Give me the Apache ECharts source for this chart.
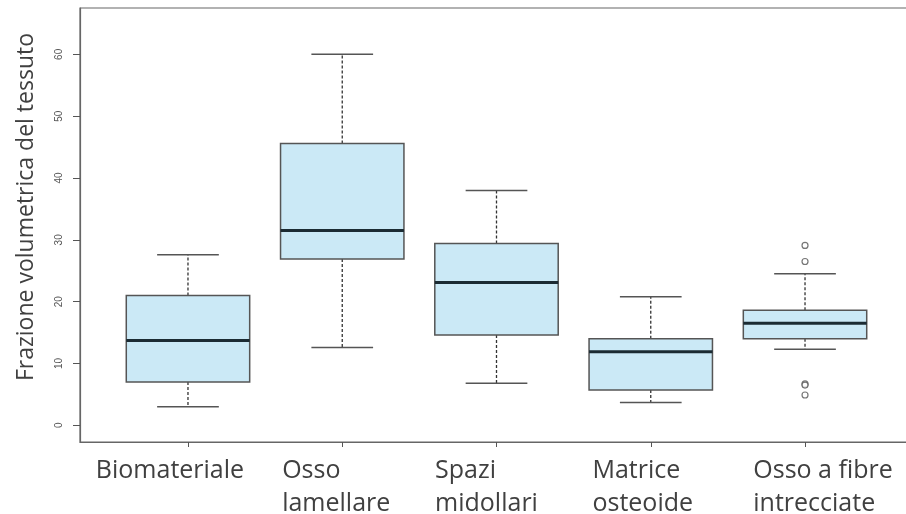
<!DOCTYPE html>
<html>
<head>
<meta charset="utf-8">
<script src="https://cdn.jsdelivr.net/npm/echarts@6/dist/echarts.min.js"></script>
<style>
  html, body { margin: 0; padding: 0; background: #fff; }
  #main { width: 906px; height: 514px; }
</style>
</head>
<body>
<div id="main"></div>
<script>
// categorie (etichette asse x)
var categories = ['Biomateriale', 'Osso\nlamellare', 'Spazi\nmidollari', 'Matrice\nosteoide', 'Osso a fibre\nintrecciate'];
// statistiche dei boxplot, una per categoria
var whiskerLow  = [3.0, 12.6, 6.8, 3.7, 12.3];
var q1          = [7.0, 26.9, 14.6, 5.7, 14.0];
var median      = [13.7, 31.5, 23.1, 11.9, 16.5];
var q3          = [21.0, 45.6, 29.4, 14.0, 18.6];
var whiskerHigh = [27.6, 60.0, 38.0, 20.8, 24.5];
// valori anomali (solo Osso a fibre intrecciate)
var outlierCat = [5, 5, 5, 5, 5];
var outlierVal = [29.1, 26.5, 6.7, 6.5, 4.9];
var yTicks = [0, 10, 20, 30, 40, 50, 60];

var boxData = categories.map(function (c, i) {
  return [i + 1, whiskerLow[i], q1[i], median[i], q3[i], whiskerHigh[i]];
});
var outData = outlierCat.map(function (c, i) { return [c, outlierVal[i]]; });
var catPos = categories.map(function (c, i) { return i + 1; });

// etichette spostate a mano come nell'originale (padding dx / sx)
var lblBase = { align: 'left', fontSize: 25, lineHeight: 33, color: '#404040', fontFamily: 'Open Sans' };
var lblPad = [[0, 36, 0, 0], [0, 12, 0, 0], [0, 20, 0, 0], [0, 16, 0, 0], [0, 0, 0, 36]];
var rich = {};
lblPad.forEach(function (p, i) { rich['c' + i] = Object.assign({ padding: p }, lblBase); });

var chart = echarts.init(document.getElementById('main'));
chart.setOption({
  animation: false,
  grid: {
    left: 80, top: 8, width: 833, height: 434,
    outerBoundsMode: 'none',
    show: true, borderColor: '#666', borderWidth: 1.2
  },
  xAxis: {
    type: 'value', min: 0.3, max: 5.7,
    splitLine: { show: false },
    axisLine: { show: true, onZero: false, lineStyle: { color: '#666', width: 1.2 } },
    axisTick: { show: true, customValues: catPos, length: 5, lineStyle: { color: '#555' } },
    axisLabel: {
      customValues: catPos,
      margin: 12,
      formatter: function (v) {
        var i = Math.round(v) - 1;
        var t = categories[i] || '';
        return t.split('\n').map(function (s) { return '{c' + i + '|' + s + '}'; }).join('\n');
      },
      rich: rich
    }
  },
  yAxis: {
    type: 'value', min: -2.7, max: 67.5,
    splitLine: { show: false },
    axisLine: { show: true, onZero: false, lineStyle: { color: '#666', width: 1.2 } },
    axisTick: { show: true, customValues: yTicks, length: 7, lineStyle: { color: '#555' } },
    axisLabel: { customValues: yTicks, rotate: 90, fontSize: 10, color: '#555', margin: 16, fontFamily: 'Liberation Sans' },
    name: 'Frazione volumetrica del tessuto',
    nameLocation: 'middle',
    nameGap: 42,
    nameTextStyle: { fontSize: 23, color: '#404040', fontFamily: 'Open Sans', padding: [0, 0, 0, 36] }
  },
  series: [
    {
      type: 'custom',
      data: boxData,
      encode: { x: 0, y: [1, 2, 3, 4, 5] },
      renderItem: function (params, api) {
        var x = api.value(0);
        var pLo = api.coord([x, api.value(1)]);
        var pQ1 = api.coord([x, api.value(2)]);
        var pMd = api.coord([x, api.value(3)]);
        var pQ3 = api.coord([x, api.value(4)]);
        var pHi = api.coord([x, api.value(5)]);
        var bw = api.size([0.8, 0])[0];
        var cw = bw / 2;
        var cx = pMd[0];
        var dash = { stroke: '#333', lineWidth: 1.3, lineDash: [3, 2] };
        var solid = { stroke: '#555', lineWidth: 1.5 };
        return {
          type: 'group',
          children: [
            { type: 'line', shape: { x1: cx, y1: pQ3[1], x2: cx, y2: pHi[1] }, style: dash },
            { type: 'line', shape: { x1: cx, y1: pQ1[1], x2: cx, y2: pLo[1] }, style: dash },
            { type: 'line', shape: { x1: cx - cw / 2, y1: pHi[1], x2: cx + cw / 2, y2: pHi[1] }, style: solid },
            { type: 'line', shape: { x1: cx - cw / 2, y1: pLo[1], x2: cx + cw / 2, y2: pLo[1] }, style: solid },
            { type: 'rect', shape: { x: cx - bw / 2, y: pQ3[1], width: bw, height: pQ1[1] - pQ3[1] },
              style: { fill: '#cbe9f6', stroke: '#555', lineWidth: 1.5 } },
            { type: 'line', shape: { x1: cx - bw / 2, y1: pMd[1], x2: cx + bw / 2, y2: pMd[1] },
              style: { stroke: '#1b2b33', lineWidth: 3 } }
          ]
        };
      }
    },
    {
      type: 'scatter',
      data: outData,
      symbol: 'circle',
      symbolSize: 6,
      itemStyle: { color: '#fff', borderColor: '#555', borderWidth: 1.2 }
    }
  ]
});
</script>
</body>
</html>
